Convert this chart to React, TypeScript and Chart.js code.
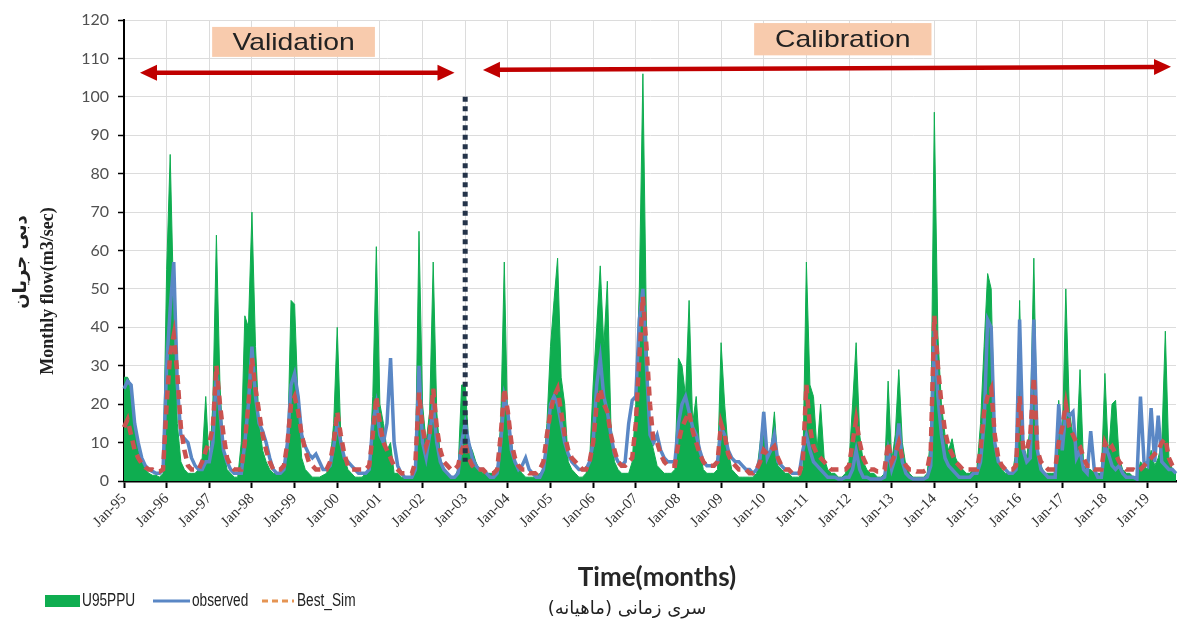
import React, { useEffect, useRef } from 'react';
import { Chart, registerables } from 'chart.js';

Chart.register(...registerables);

// ---- categories ----
const yearCodes = ['95','96','97','98','99','00','01','02','03','04','05','06','07','08','09','10','11','12','13','14','15','16','17','18','19'];
const monthNames = ['Jan','Feb','Mar','Apr','May','Jun','Jul','Aug','Sep','Oct','Nov','Dec'];
const monthsInLastYear = 9;

const categories: string[] = [];
yearCodes.forEach((yy, yi) => {
  const n = yi === yearCodes.length - 1 ? monthsInLastYear : 12;
  for (let m = 0; m < n; m++) categories.push(`${monthNames[m]}-${yy}`);
});

// ---- series values (m3/sec), one row per year ----
const u95ppu: number[] = [
  27, 27, 25, 14, 8, 5, 3, 2, 1.5, 1.5, 1, 2,
  55, 85, 45, 15, 5, 3, 2, 2, 2, 3, 6, 22,
  4, 20, 64, 25, 8, 3, 2, 1, 1, 10, 43, 40,
  70, 35, 15, 8, 5, 3, 2, 2, 2, 3, 8, 47,
  46, 20, 6, 3, 2, 1, 1, 1, 1.5, 2, 5, 15,
  40, 12, 6, 3, 2, 1, 1, 1, 2, 3, 22, 61,
  20, 15, 8, 10, 2, 2, 1, 1, 1, 1, 5, 65,
  20, 10, 18, 57, 18, 6, 3, 2, 1, 1, 3, 25,
  25, 10, 8, 5, 3, 2, 2, 2, 2, 3, 15, 57,
  12, 10, 5, 3, 2, 1, 1, 1, 1, 2, 3, 15,
  35, 47, 58, 27, 20, 5, 3, 2, 1, 1, 2, 5,
  25, 40, 56, 35, 52, 15, 5, 3, 2, 2, 2, 5,
  20, 50, 106, 40, 12, 8, 4, 3, 2, 2, 2, 3,
  32, 30, 22, 47, 15, 22, 8, 3, 2, 2, 2, 3,
  36, 20, 8, 3, 2, 1, 1, 1, 1, 1, 2, 10,
  18, 5, 8, 18, 4, 3, 2, 2, 1, 1, 1, 3,
  57, 25, 22, 8, 20, 6, 3, 2, 2, 1, 1, 2,
  5, 20, 36, 12, 5, 3, 2, 2, 1, 1, 2, 26,
  5, 12, 29, 10, 4, 2, 1, 1, 1, 1, 2, 12,
  96, 38, 20, 12, 8, 11, 6, 4, 3, 2, 2, 3,
  3, 15, 35, 54, 50, 10, 5, 3, 2, 2, 2, 8,
  47, 10, 6, 15, 58, 8, 4, 2, 2, 2, 2, 21,
  10, 50, 18, 12, 8, 29, 4, 3, 3, 2, 2, 2,
  28, 6, 20, 21, 6, 3, 2, 2, 1, 1, 5, 4,
  3, 8, 4, 6, 10, 39, 6, 3, 2,
];

const observed: number[] = [
  24, 26, 25, 15, 10, 6, 4, 3, 2.5, 2, 2, 3,
  30, 45, 57, 25, 12, 11, 10, 6, 4, 3, 3, 5,
  5, 10, 28, 18, 8, 5, 3, 2, 2, 2, 10, 20,
  35, 22, 15, 13, 10, 6, 3, 2, 2, 3, 10, 25,
  28, 22, 12, 9, 7, 6, 7, 5, 3, 3, 4, 9,
  15, 10, 6, 5, 4, 3, 2, 2, 2, 3, 15, 20,
  12, 10, 15, 32, 10, 4, 2, 1, 1, 1, 3, 30,
  10, 6, 12, 20, 10, 5, 3, 2, 1, 1, 2, 10,
  15, 10, 6, 4, 3, 3, 2, 1, 1, 2, 10, 22,
  18, 8, 5, 3, 4, 6, 3, 2, 1, 1, 3, 10,
  20, 22, 20, 15, 10, 7, 5, 4, 3, 3, 3, 5,
  10, 25, 32, 22, 18, 12, 7, 5, 4, 5, 15, 21,
  22, 42, 50, 30, 12, 10, 12, 8, 6, 5, 5, 5,
  15, 20, 22, 18, 14, 12, 8, 5, 4, 4, 4, 5,
  14, 12, 8, 6, 5, 5, 4, 3, 3, 2, 3, 6,
  18, 6, 8, 12, 5, 4, 3, 3, 2, 2, 2, 8,
  12, 8, 5, 4, 3, 2, 1, 1, 1, 0.5, 0.5, 1,
  1, 3, 8, 3, 1, 1, 0.5, 0.5, 0.5, 0.5, 1, 8,
  3, 6, 15, 5, 2, 1, 0.5, 0.5, 0.5, 0.5, 1, 4,
  40, 22, 12, 6, 4, 3, 2, 1, 1, 1, 1, 2,
  2, 5, 15, 42, 40, 10, 5, 4, 3, 2, 2, 3,
  42, 8, 5, 6, 42, 8, 3, 2, 1, 1, 1, 20,
  8, 18, 17, 18, 6, 8, 3, 2, 13, 3, 1, 1,
  9, 7, 4, 3, 4, 2, 1, 1, 1, 0.5, 22, 5,
  4, 19, 5, 17, 5, 4, 3, 3, 2,
];

const bestSim: number[] = [
  14, 16, 12, 8, 6, 4.5, 3.5, 3, 3, 2.5, 2.5, 3,
  20, 33, 38, 28, 14, 8, 4, 3, 3, 3, 5, 8,
  10, 14, 30, 20, 12, 6, 4, 3, 3, 3, 10, 20,
  32, 24, 18, 12, 8, 5, 3, 3, 3, 4, 10, 20,
  22, 18, 12, 8, 5, 4, 3, 3, 3, 3, 5, 10,
  18, 12, 7, 4, 3, 3, 3, 3, 3, 4, 12, 22,
  15, 10, 8, 6, 4, 3, 2, 2, 2, 2, 5, 23,
  14, 9, 12, 24, 14, 8, 5, 4, 3, 3, 4, 8,
  10, 6, 4, 3, 3, 3, 2, 2, 2, 3, 12, 24,
  18, 10, 6, 4, 3, 3, 2, 2, 2, 3, 5, 12,
  18, 22, 24, 18, 12, 8, 6, 5, 4, 3, 3, 5,
  10, 20, 24, 20, 18, 12, 8, 5, 4, 4, 5, 6,
  15, 32, 48, 35, 20, 10, 10, 7, 5, 4, 4, 4,
  10, 14, 16, 18, 13, 10, 7, 5, 4, 4, 4, 5,
  15, 12, 7, 5, 4, 3, 3, 3, 2, 2, 3, 5,
  8, 7, 8, 9, 6, 4, 3, 3, 2, 2, 2, 5,
  25, 14, 9, 7, 6, 5, 4, 3, 3, 3, 3, 3,
  4, 10, 16, 10, 6, 4, 3, 3, 2.5, 2.5, 3, 10,
  5, 7, 10, 6, 4, 3, 3, 2.5, 2.5, 2.5, 3, 8,
  43, 30, 20, 13, 9, 7, 5, 4, 3, 3, 3, 3,
  3, 8, 18, 22, 24, 12, 6, 4, 3, 3, 3, 4,
  22, 8, 8, 12, 27, 8, 5, 4, 3, 3, 3, 10,
  14, 20, 14, 12, 10, 9, 6, 4, 4, 3, 3, 3,
  10, 8, 9, 7, 5, 4, 3, 3, 3, 2.5, 3, 4,
  5, 6, 7, 8, 10, 11, 6, 4, 3,
];

// ---- y ticks ----
const yMin = 0;
const yMax = 120;
const yStep = 10;

// ---- annotations (in data coordinates) ----
const splitIndex = 96; // Jan-03
const splitTop = 100;
const splitBottom = 5;
const validationArrow = { from: 4.5, to: 93, yFrom: 106.3, yTo: 106.3 };
const calibrationArrow = { from: 101, to: 294.6, yFrom: 107.0, yTo: 107.8 };
const validationBox = { text: 'Validation', x1: 24.8, x2: 70.6, y1: 118.2, y2: 110.4 };
const calibrationBox = { text: 'Calibration', x1: 177.3, x2: 227.2, y1: 119.2, y2: 110.8 };

const GREEN = '#0fad50';
const BLUE = '#5a87c5';
const RED = '#c9524f';
const ARROW = '#c00000';

function drawArrow(ctx: CanvasRenderingContext2D, x1: number, y1: number, x2: number, y2: number) {
  const ang = Math.atan2(y2 - y1, x2 - x1);
  const c = Math.cos(ang), s = Math.sin(ang);
  const hl = 17, hw = 8;
  ctx.save();
  ctx.strokeStyle = ARROW;
  ctx.fillStyle = ARROW;
  ctx.lineWidth = 4.5;
  ctx.beginPath();
  ctx.moveTo(x1 + c * (hl - 2), y1 + s * (hl - 2));
  ctx.lineTo(x2 - c * (hl - 2), y2 - s * (hl - 2));
  ctx.stroke();
  const head = (tx: number, ty: number, dir: number) => {
    const bx = tx - dir * c * hl, by = ty - dir * s * hl;
    ctx.beginPath();
    ctx.moveTo(tx, ty);
    ctx.lineTo(bx - s * hw, by + c * hw);
    ctx.lineTo(bx + s * hw, by - c * hw);
    ctx.closePath();
    ctx.fill();
  };
  head(x2, y2, 1);
  head(x1, y1, -1);
  ctx.restore();
}

function drawBox(ctx: CanvasRenderingContext2D, xs: any, ys: any, b: { text: string; x1: number; x2: number; y1: number; y2: number }) {
  const X1 = xs.getPixelForValue(b.x1), X2 = xs.getPixelForValue(b.x2);
  const Y1 = ys.getPixelForValue(b.y1), Y2 = ys.getPixelForValue(b.y2);
  ctx.save();
  ctx.fillStyle = '#f8cbad';
  ctx.fillRect(X1, Y1, X2 - X1, Y2 - Y1);
  ctx.fillStyle = '#222';
  ctx.font = "24px 'Liberation Sans', Arial, sans-serif";
  ctx.textAlign = 'center';
  ctx.textBaseline = 'middle';
  ctx.translate((X1 + X2) / 2, (Y1 + Y2) / 2 + 1);
  ctx.scale(1.18, 1);
  ctx.fillText(b.text, 0, 0);
  ctx.restore();
}

const overlayPlugin = {
  id: 'overlay',
  afterDatasetsDraw(chart: any) {
    const { ctx } = chart;
    const xs = chart.scales.x, ys = chart.scales.y;
    // split line
    ctx.save();
    ctx.strokeStyle = '#243349';
    ctx.lineWidth = 5;
    ctx.setLineDash([5, 4.5]);
    const sx = xs.getPixelForValue(splitIndex);
    ctx.beginPath();
    ctx.moveTo(sx, ys.getPixelForValue(splitTop));
    ctx.lineTo(sx, ys.getPixelForValue(splitBottom));
    ctx.stroke();
    ctx.restore();
    // arrows
    drawArrow(ctx, xs.getPixelForValue(validationArrow.from), ys.getPixelForValue(validationArrow.yFrom),
      xs.getPixelForValue(validationArrow.to), ys.getPixelForValue(validationArrow.yTo));
    drawArrow(ctx, xs.getPixelForValue(calibrationArrow.from), ys.getPixelForValue(calibrationArrow.yFrom),
      xs.getPixelForValue(calibrationArrow.to), ys.getPixelForValue(calibrationArrow.yTo));
    drawBox(ctx, xs, ys, validationBox);
    drawBox(ctx, xs, ys, calibrationBox);
  },
  afterDraw(chart: any) {
    const { ctx } = chart;
    ctx.save();
    // y titles
    ctx.fillStyle = '#222';
    ctx.textAlign = 'center';
    ctx.textBaseline = 'middle';
    ctx.save();
    ctx.translate(21, 262);
    ctx.rotate(-Math.PI / 2);
    ctx.direction = 'rtl';
    ctx.font = "bold 18px 'DejaVu Sans', sans-serif";
    ctx.fillText('دبی جریان', 0, 0);
    ctx.restore();
    ctx.save();
    ctx.translate(48, 291);
    ctx.rotate(-Math.PI / 2);
    ctx.font = "bold 18px 'Liberation Serif', serif";
    ctx.fillText('Monthly flow(m3/sec)', 0, 0);
    ctx.restore();
    // x titles
    ctx.font = "bold 26px Lato, sans-serif";
    ctx.fillStyle = '#262626';
    ctx.fillText('Time(months)', 657, 578);
    ctx.save();
    ctx.direction = 'rtl';
    ctx.font = "18px 'DejaVu Sans', sans-serif";
    ctx.fillStyle = '#222';
    ctx.fillText('سری زمانی (ماهیانه)', 627, 609);
    ctx.restore();
    // legend
    const ly = 601;
    ctx.fillStyle = GREEN;
    ctx.fillRect(45, ly - 6, 35, 12);
    ctx.strokeStyle = BLUE;
    ctx.lineWidth = 3;
    ctx.beginPath();
    ctx.moveTo(153, ly);
    ctx.lineTo(190, ly);
    ctx.stroke();
    ctx.strokeStyle = '#e59452';
    ctx.setLineDash([6, 4]);
    ctx.beginPath();
    ctx.moveTo(262, ly);
    ctx.lineTo(294, ly);
    ctx.stroke();
    ctx.setLineDash([]);
    const legendText = (t: string, x: number) => {
      ctx.save();
      ctx.translate(x, ly);
      ctx.scale(0.76, 1);
      ctx.font = "18px 'Liberation Sans', sans-serif";
      ctx.fillStyle = '#222';
      ctx.textAlign = 'left';
      ctx.textBaseline = 'middle';
      ctx.fillText(t, 0, 0);
      ctx.restore();
    };
    legendText('U95PPU', 82);
    legendText('observed', 192);
    legendText('Best_Sim', 297);
    ctx.restore();
  },
};

export default function App() {
  const canvasRef = useRef<HTMLCanvasElement | null>(null);

  useEffect(() => {
    if (!canvasRef.current) return;
    const chart = new Chart(canvasRef.current, {
      type: 'line',
      data: {
        labels: categories,
        datasets: [
          {
            label: 'U95PPU',
            data: u95ppu,
            borderColor: GREEN,
            backgroundColor: GREEN,
            borderWidth: 1,
            fill: 'origin',
            pointRadius: 0,
            order: 3,
          },
          {
            label: 'observed',
            data: observed,
            borderColor: BLUE,
            borderWidth: 3.5,
            fill: false,
            pointRadius: 0,
            order: 2,
          },
          {
            label: 'Best_Sim',
            data: bestSim,
            borderColor: RED,
            borderWidth: 4.5,
            borderDash: [9, 6],
            fill: false,
            pointRadius: 0,
            order: 1,
          },
        ],
      },
      options: {
        responsive: false,
        animation: false,
        layout: { padding: { top: 20, right: 2, left: 0, bottom: 0 } },
        elements: { line: { tension: 0 }, point: { radius: 0 } },
        plugins: { legend: { display: false }, tooltip: { enabled: false } },
        scales: {
          x: {
            type: 'category',
            offset: false,
            border: { color: '#000', width: 2.5 },
            grid: {
              color: (c: any) => (c.index % 12 === 0 ? '#dcdcdc' : 'rgba(0,0,0,0)'),
              tickColor: (c: any) => (c.index % 12 === 0 ? '#000' : 'rgba(0,0,0,0)'),
              tickLength: 7,
              tickWidth: 2,
              lineWidth: 1,
            },
            ticks: {
              autoSkip: false,
              minRotation: 45,
              maxRotation: 45,
              padding: 2,
              color: '#333',
              font: { family: "'Liberation Serif', serif", size: 15 },
              callback: function (this: any, value: any, index: number) {
                return index % 12 === 0 ? this.getLabelForValue(value) : '';
              },
            },
            afterFit: (s: any) => {
              s.height = 147;
              s.paddingRight = 0;
              s.paddingLeft = 0;
            },
          },
          y: {
            min: yMin,
            max: yMax,
            border: { color: '#000', width: 2 },
            grid: { color: '#dcdcdc', tickColor: '#000', tickLength: 6, tickWidth: 1.5, lineWidth: 1 },
            ticks: {
              stepSize: yStep,
              padding: 9,
              color: '#505050',
              font: { family: 'Lato, sans-serif', size: 16 },
            },
            afterFit: (s: any) => {
              s.width = 124;
            },
          },
        },
      },
      plugins: [overlayPlugin],
    } as any);
    return () => chart.destroy();
  }, []);

  return (
    <div style={{ position: 'absolute', left: 0, top: 0, width: 1178, height: 628, background: '#fff' }}>
      <canvas ref={canvasRef} width={1178} height={628} style={{ display: 'block' }} />
    </div>
  );
}
